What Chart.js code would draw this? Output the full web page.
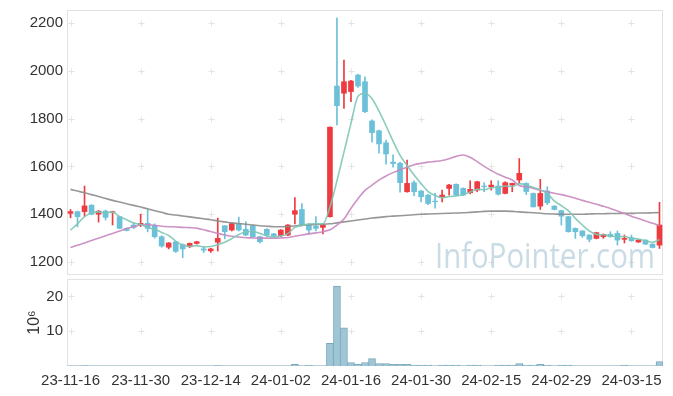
<!DOCTYPE html>
<html>
<head>
<meta charset="utf-8">
<script src="https://cdn.jsdelivr.net/npm/chart.js@4.4.1/dist/chart.umd.min.js"></script>
<style>
  body { margin: 0; background: #fff; }
  #wrap { position: relative; width: 673px; height: 396px; }
  #priceChart { position: absolute; left: 0; top: 0; }
  #volChart { position: absolute; left: 0; top: 276px; }
</style>
</head>
<body>
<div id="wrap">
  <canvas id="priceChart" width="673" height="280"></canvas>
  <canvas id="volChart" width="673" height="120"></canvas>
</div>
<script>
// trading days
const dates = [
  '23-11-16','23-11-17','23-11-20','23-11-21','23-11-22','23-11-23','23-11-24','23-11-27','23-11-28','23-11-29',
  '23-11-30','23-12-01','23-12-04','23-12-05','23-12-06','23-12-07','23-12-08','23-12-11','23-12-12','23-12-13',
  '23-12-14','23-12-15','23-12-18','23-12-19','23-12-20','23-12-21','23-12-22','23-12-26','23-12-27','23-12-28',
  '24-01-02','24-01-03','24-01-04','24-01-05','24-01-08','24-01-09','24-01-10','24-01-11','24-01-12','24-01-15',
  '24-01-16','24-01-17','24-01-18','24-01-19','24-01-22','24-01-23','24-01-24','24-01-25','24-01-26','24-01-29',
  '24-01-30','24-01-31','24-02-01','24-02-02','24-02-05','24-02-06','24-02-07','24-02-08','24-02-13','24-02-14',
  '24-02-15','24-02-16','24-02-19','24-02-20','24-02-21','24-02-22','24-02-23','24-02-26','24-02-27','24-02-28',
  '24-02-29','24-03-04','24-03-05','24-03-06','24-03-07','24-03-08','24-03-11','24-03-12','24-03-13','24-03-14',
  '24-03-15','24-03-18','24-03-19','24-03-20','24-03-21'
];

const openP = [
  1404,1411,1411,1438,1400,1413,1408,1390,1341,1355,
  1355,1362,1352,1306,1262,1285,1273,1264,1278,1255,
  1247,1283,1352,1334,1361,1337,1352,1306,1337,1318,
  1310,1313,1400,1420,1355,1350,1345,1390,1936,1906,
  1913,1982,1954,1790,1749,1699,1618,1613,1494,1532,
  1497,1480,1455,1473,1508,1525,1508,1490,1501,1518,
  1515,1518,1487,1522,1543,1529,1487,1434,1497,1434,
  1415,1390,1341,1330,1313,1299,1306,1316,1320,1295,
  1302,1284,1292,1275,1271
];
const highP = [
  1420,1413,1518,1440,1416,1418,1413,1392,1343,1365,
  1400,1420,1360,1310,1282,1287,1276,1280,1287,1265,
  1258,1384,1352,1365,1388,1369,1355,1308,1340,1320,
  1336,1357,1470,1445,1362,1390,1357,1766,2220,2045,
  1960,1985,1975,1795,1752,1710,1648,1618,1627,1540,
  1500,1482,1487,1501,1525,1527,1510,1540,1538,1532,
  1540,1540,1536,1530,1633,1532,1489,1546,1515,1436,
  1417,1392,1343,1332,1315,1325,1318,1327,1330,1313,
  1313,1294,1294,1277,1450
];
const lowP = [
  1385,1348,1392,1398,1367,1376,1355,1340,1330,1340,
  1348,1327,1300,1262,1255,1240,1218,1260,1275,1240,
  1240,1246,1297,1330,1330,1310,1303,1280,1306,1304,
  1306,1310,1360,1350,1318,1330,1318,1388,1773,1843,
  1871,1930,1825,1701,1655,1609,1597,1492,1492,1478,
  1452,1440,1425,1452,1480,1478,1478,1485,1494,1494,
  1501,1480,1485,1494,1529,1482,1430,1420,1440,1418,
  1355,1325,1299,1303,1285,1297,1299,1304,1271,1280,
  1287,1282,1273,1259,1257
];
const closeP = [
  1411,1390,1435,1400,1413,1387,1411,1341,1332,1345,
  1362,1341,1306,1267,1280,1245,1255,1278,1285,1250,
  1255,1299,1327,1361,1334,1313,1306,1285,1313,1310,
  1334,1355,1415,1355,1334,1341,1355,1764,1854,1954,
  1957,1936,1829,1741,1694,1652,1612,1532,1529,1494,
  1473,1445,1452,1480,1522,1480,1480,1504,1536,1515,
  1522,1484,1532,1529,1571,1495,1431,1487,1448,1420,
  1392,1327,1327,1310,1295,1323,1316,1306,1292,1299,
  1289,1292,1275,1261,1355
];

// moving averages
const ma5 = [
  1334,1360,1390,1405,1410,1405,1409,1390,1377,1363,
  1358,1344,1337,1324,1311,1288,1271,1265,1269,1263,
  1265,1273,1283,1298,1315,1327,1328,1320,1310,1305,
  1310,1319,1345,1354,1359,1360,1360,1430,1540,1660,
  1780,1893,1906,1883,1831,1770,1706,1646,1604,1564,
  1528,1495,1479,1469,1474,1476,1483,1493,1504,1503,
  1511,1512,1518,1516,1528,1522,1512,1503,1486,1456,
  1436,1415,1383,1355,1330,1316,1314,1310,1306,1307,
  1300,1296,1289,1283,1294
];
const ma20 = [
  1261,1270,1280,1290,1300,1310,1320,1330,1340,1348,
  1355,1356,1354,1350,1348,1347,1345,1344,1342,1335,
  1328,1320,1313,1308,1305,1302,1301,1300,1300,1300,
  1301,1303,1308,1313,1318,1322,1327,1335,1355,1380,
  1425,1465,1500,1522,1543,1560,1574,1586,1597,1607,
  1613,1618,1621,1625,1632,1642,1648,1638,1620,1600,
  1583,1567,1555,1543,1520,1515,1508,1500,1494,1488,
  1482,1475,1467,1458,1450,1442,1433,1424,1414,1403,
  1392,1382,1372,1362,1353
];
const ma60 = [
  1504,1497,1490,1482,1474,1466,1458,1451,1444,1437,
  1430,1423,1415,1408,1400,1397,1393,1389,1385,1381,
  1377,1372,1368,1364,1361,1358,1355,1352,1350,1348,
  1348,1349,1351,1354,1356,1357,1358,1360,1364,1368,
  1372,1376,1380,1384,1387,1390,1392,1394,1396,1398,
  1400,1401,1402,1403,1404,1405,1406,1408,1410,1412,
  1413,1413,1413,1412,1410,1408,1406,1404,1402,1401,
  1400,1400,1400,1400,1401,1402,1402,1403,1403,1404,
  1404,1405,1405,1406,1407
];

// volume, millions of shares
const volume = [
  0.05,0.05,0.15,0.05,0.05,0.05,0.05,0.05,0.05,0.05,
  0.05,0.05,0.05,0.05,0.05,0.05,0.05,0.05,0.05,0.05,
  0.05,0.15,0.05,0.05,0.05,0.05,0.05,0.05,0.05,0.05,
  0.05,0.05,0.45,0.05,0.2,0.05,0.05,6.5,23,11,
  1.0,0.5,1.0,2.1,0.7,0.7,0.5,0.5,0.5,0.25,
  0.25,0.25,0.05,0.25,0.25,0.25,0.05,0.25,0.25,0.05,
  0.05,0.25,0.25,0.25,0.7,0.3,0.3,0.5,0.3,0.05,
  0.25,0.25,0.05,0.05,0.05,0.05,0.05,0.05,0.05,0.25,
  0.05,0.05,0.05,0.05,1.3
];

const priceTicks = [1200, 1400, 1600, 1800, 2000, 2200];
const volTicks = [10, 20];

const upColor = '#ee3b40';
const downColor = '#6cc1d9';
const tickFont = { family: '"Liberation Sans", Arial, sans-serif', size: 15 };

const candleColors = closeP.map((c, i) => c >= openP[i] ? upColor : downColor);
const bodies = openP.map((o, i) => [o, closeP[i]]);
const wicks = lowP.map((l, i) => [l, highP[i]]);

// light frame round the plot area
const framePlugin = {
  id: 'frame',
  beforeDatasetsDraw(chart) {
    const { ctx, chartArea: a } = chart;
    ctx.save();
    ctx.strokeStyle = '#e2e2e2';
    ctx.lineWidth = 1;
    ctx.strokeRect(Math.round(a.left) + 0.5, Math.round(a.top) + 0.5,
      Math.round(a.right - a.left) - 1, Math.round(a.bottom - a.top) - 1);
    ctx.restore();
  }
};

// small + marks where the grid lines would cross
const crossPlugin = {
  id: 'cross',
  beforeDatasetsDraw(chart) {
    const { ctx, scales: { x, y } } = chart;
    ctx.save();
    ctx.strokeStyle = '#e3e3e3';
    ctx.lineWidth = 1;
    dates.forEach((d, i) => {
      if (i % 10) return;
      const px = Math.round(x.getPixelForValue(i)) + 0.5;
      y.ticks.forEach(t => {
        const py = Math.round(y.getPixelForValue(t.value)) + 0.5;
        ctx.beginPath();
        ctx.moveTo(px - 3, py); ctx.lineTo(px + 3, py);
        ctx.moveTo(px, py - 3); ctx.lineTo(px, py + 3);
        ctx.stroke();
      });
    });
    ctx.restore();
  }
};

const watermarkPlugin = {
  id: 'watermark',
  beforeDatasetsDraw(chart) {
    const { ctx, chartArea: a } = chart;
    ctx.save();
    ctx.font = '35px "Open Sans", sans-serif';
    ctx.fillStyle = 'rgba(165,196,212,0.6)';
    ctx.textAlign = 'right';
    ctx.textBaseline = 'alphabetic';
    ctx.fillText('InfoPointer.com', a.right - 8, a.bottom - 7, 220);
    ctx.restore();
  }
};

// no extra room for the end labels, the frame is fixed
function noPad(s) {
  s.width = 67;
  s.paddingTop = 0;
  s.paddingBottom = 0;
}

function maLine(data, color) {
  return {
    type: 'line',
    data: data,
    borderColor: color,
    borderWidth: 1.6,
    pointRadius: 0,
    cubicInterpolationMode: 'monotone',
    order: 0
  };
}

new Chart(document.getElementById('priceChart'), {
  type: 'bar',
  data: {
    labels: dates,
    datasets: [
      maLine(ma5, 'rgba(125,198,182,0.9)'),
      maLine(ma20, 'rgba(200,135,192,0.9)'),
      maLine(ma60, 'rgba(140,140,140,0.9)'),
      { data: bodies, backgroundColor: candleColors, barThickness: 5, grouped: false, borderSkipped: false, order: 1 },
      { data: wicks, backgroundColor: candleColors, barThickness: 1, grouped: false, borderSkipped: false, order: 2 }
    ]
  },
  options: {
    responsive: false,
    animation: false,
    layout: { padding: { top: 10, right: 10, bottom: 5, left: 0 } },
    plugins: { legend: { display: false }, tooltip: { enabled: false } },
    scales: {
      x: { display: false, offset: true },
      y: {
        min: 1146,
        max: 2254,
        afterFit: noPad,
        afterBuildTicks(s) { s.ticks = priceTicks.map(v => ({ value: v })); },
        grid: { display: false, drawTicks: false },
        border: { display: false },
        ticks: { padding: 4, color: '#333', font: tickFont, callback: v => String(v) }
      }
    }
  },
  plugins: [framePlugin, crossPlugin, watermarkPlugin]
});

new Chart(document.getElementById('volChart'), {
  type: 'bar',
  data: {
    labels: dates,
    datasets: [{
      data: volume,
      backgroundColor: '#a0c6d5',
      borderColor: '#78a8bc',
      borderWidth: 1,
      barPercentage: 1,
      categoryPercentage: 1
    }]
  },
  options: {
    responsive: false,
    animation: false,
    layout: { padding: { top: 3, right: 10, bottom: 0, left: 0 } },
    plugins: { legend: { display: false }, tooltip: { enabled: false } },
    scales: {
      x: {
        afterFit(s) { s.height = 30; },
        grid: { display: false, drawTicks: false },
        border: { display: false },
        ticks: {
          autoSkip: false, maxRotation: 0, minRotation: 0, padding: 6,
          color: '#333', font: tickFont,
          callback(v, i) { return i % 10 === 0 ? dates[i] : ''; }
        }
      },
      y: {
        min: 0,
        max: 25,
        afterFit: noPad,
        afterBuildTicks(s) { s.ticks = volTicks.map(v => ({ value: v })); },
        grid: { display: false, drawTicks: false },
        border: { display: false },
        ticks: { padding: 4, color: '#333', font: tickFont },
        title: { display: true, text: '10⁶', color: '#333', font: { family: tickFont.family, size: 16 }, padding: { top: 25, bottom: 0 } }
      }
    }
  },
  plugins: [framePlugin, crossPlugin]
});
</script>
</body>
</html>
